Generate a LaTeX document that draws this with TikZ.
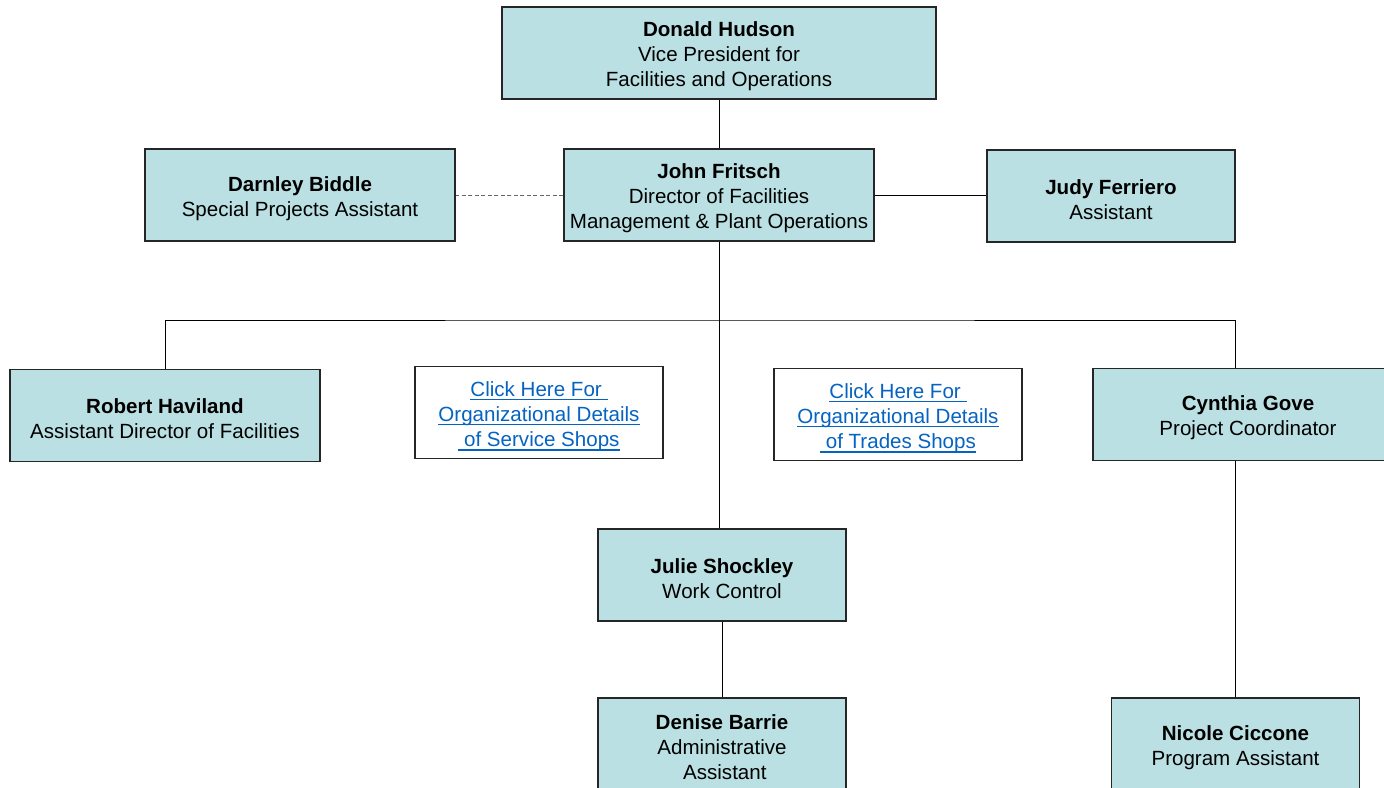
\documentclass[tikz,border=0pt]{standalone}
\usepackage{fontspec}
\setmainfont{Liberation Sans}
\definecolor{boxblue}{RGB}{186,224,227}
\definecolor{linkblue}{RGB}{5,99,193}
\newcommand{\lnk}[1]{{\color{linkblue}\setbox0\hbox{#1}\rlap{\rule[-2.4pt]{\wd0}{0.8pt}}\box0}}
\newcommand{\nm}[1]{\rule{0pt}{12.3pt}\textbf{#1}}
\begin{document}
\begin{tikzpicture}[x=0.02cm,y=-0.02cm]
        \clip (0,0) rectangle (1384,788);
        \tikzstyle{every node}=[align=center, inner sep=0pt, minimum height=1.84cm,
                                font=\fontsize{11.7}{14.3}\selectfont]
        \tikzstyle{person}=[fill=boxblue, draw=black!85, line width=0.7pt]
        \tikzstyle{linkbox}=[fill=white, draw=black!85, line width=0.7pt, minimum width=4.96cm]
        \node[person, minimum width=8.68cm] (hudson)   at (719, 53)    {\nm{Donald Hudson}\\Vice President for\\Facilities and Operations};
        \node[person, minimum width=6.2cm]  (biddle)   at (300, 195)   {\nm{Darnley Biddle}\\Special Projects Assistant};
        \node[person, minimum width=6.2cm]  (fritsch)  at (719, 195)   {\nm{John Fritsch}\\Director of Facilities\\Management \& Plant Operations};
        \node[person, minimum width=4.96cm] (ferriero) at (1111, 196)  {\nm{Judy Ferriero}\\Assistant};
        \node[person, minimum width=6.2cm]  (haviland) at (165, 415.5) {\nm{Robert Haviland}\\Assistant Director of Facilities};
        \node[linkbox]                      (service)  at (539, 412.5) {\rule{0pt}{12.3pt}\lnk{Click Here For\ }\\\lnk{Organizational Details}\\\lnk{\ of Service Shops}};
        \node[linkbox]                      (trades)   at (898, 414.5) {\rule{0pt}{12.3pt}\lnk{Click Here For\ }\\\lnk{Organizational Details}\\\lnk{\ of Trades Shops}};
        \node[person, minimum width=6.2cm]  (gove)     at (1248, 414.5){\nm{Cynthia Gove}\\Project Coordinator};
        \node[person, minimum width=4.96cm] (shockley) at (722, 575)   {\nm{Julie Shockley}\\Work Control};
        \node[person, minimum width=4.96cm] (barrie)   at (722, 744)   {\nm{Denise Barrie}\\Administrative\\\ Assistant};
        \node[person, minimum width=4.96cm] (ciccone)  at (1235.5, 744){\nm{Nicole Ciccone}\\Program Assistant};
        \coordinate (bar) at (719, 320);
        \tikzstyle{every path}=[line width=0.5pt]
        \draw (hudson) -- (fritsch);
        \draw[black!60, dash pattern=on 2.5pt off 1.2pt] (fritsch.west) -- (biddle.east);
        \draw (fritsch.east) -- (fritsch.east -| ferriero.west);
        \draw (fritsch.south) -- (fritsch.south |- shockley.north);
        \draw (haviland.north) |- (bar) -| (ciccone.north |- gove.north);
        \draw (ciccone.north |- gove.south) -- (ciccone.north);
        \draw (shockley) -- (barrie);
    \end{tikzpicture}
\end{document}
